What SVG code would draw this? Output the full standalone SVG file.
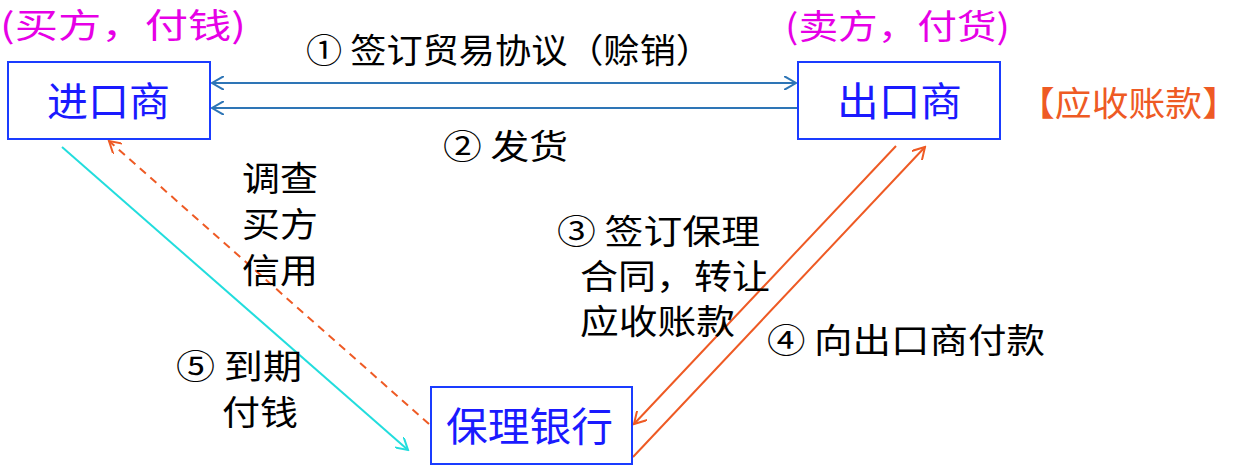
<svg xmlns="http://www.w3.org/2000/svg" width="1239" height="466" viewBox="0 0 1239 466">
<style>
text{font-family:"Noto Sans CJK SC","Liberation Sans",sans-serif;font-size:34px;fill:#000}
.box{fill:#fff;stroke:#1a3cff;stroke-width:2}
.nt{fill:#1a1aff;font-size:40px}
.mg{fill:#e600e6}
.bl{stroke:#2e75b6;stroke-width:2;fill:none}
.or{stroke:#ee5a24;stroke-width:2;fill:none}
</style>
<defs>
<marker id="ab" markerWidth="14" markerHeight="14" refX="12" refY="7" orient="auto-start-reverse" markerUnits="userSpaceOnUse"><path d="M0,0 L12,7 L0,14" fill="none" stroke="#2e75b6" stroke-width="2"/></marker>
<marker id="ao" markerWidth="14" markerHeight="14" refX="12" refY="7" orient="auto" markerUnits="userSpaceOnUse"><path d="M0,0 L12,7 L0,14" fill="none" stroke="#ee5a24" stroke-width="2"/></marker>
<marker id="ac" markerWidth="14" markerHeight="14" refX="12" refY="7" orient="auto" markerUnits="userSpaceOnUse"><path d="M0,0 L12,7 L0,14" fill="none" stroke="#22dddd" stroke-width="2"/></marker>
</defs>
<g id="connectors">
<line class="bl" x1="212" y1="83" x2="796" y2="83" marker-start="url(#ab)" marker-end="url(#ab)"/>
<line class="bl" x1="797" y1="108" x2="212" y2="108" marker-end="url(#ab)"/>
<line class="or" x1="896" y1="146" x2="634" y2="424" marker-end="url(#ao)"/>
<line class="or" x1="633" y1="457" x2="925" y2="147" marker-end="url(#ao)"/>
<line class="or" x1="429" y1="424" x2="109" y2="141" stroke-dasharray="8,6" marker-end="url(#ao)"/>
<line x1="62" y1="147" x2="408" y2="450" stroke="#22dddd" stroke-width="2" marker-end="url(#ac)"/>
</g>
<g id="importer"><rect class="box" x="8" y="62" width="202" height="77"/><text class="nt" x="47" y="116" textLength="123" lengthAdjust="spacingAndGlyphs">进口商</text></g>
<g id="exporter"><rect class="box" x="798" y="62" width="202" height="77"/><text class="nt" x="837" y="116" textLength="125" lengthAdjust="spacingAndGlyphs">出口商</text></g>
<g id="bank"><rect class="box" x="431" y="387" width="201" height="77"/><text class="nt" x="446" y="441" textLength="167" lengthAdjust="spacingAndGlyphs">保理银行</text></g>
<g id="labels">
<text class="mg" x="0" y="38" textLength="246" lengthAdjust="spacingAndGlyphs">(买方，付钱)</text>
<text class="mg" x="785" y="39" textLength="225" lengthAdjust="spacingAndGlyphs">(卖方，付货)</text>
<text x="1018" y="116" style="fill:#ee5a24" textLength="221" lengthAdjust="spacingAndGlyphs">【应收账款】</text>
<text x="306" y="63" textLength="406" lengthAdjust="spacingAndGlyphs">① 签订贸易协议（赊销）</text>
<text x="443" y="159" textLength="125" lengthAdjust="spacingAndGlyphs">② 发货</text>
<text x="242" y="191" textLength="76" lengthAdjust="spacingAndGlyphs">调查</text>
<text x="242" y="237" textLength="76" lengthAdjust="spacingAndGlyphs">买方</text>
<text x="242" y="283" textLength="76" lengthAdjust="spacingAndGlyphs">信用</text>
<text x="557" y="244" textLength="203" lengthAdjust="spacingAndGlyphs">③ 签订保理</text>
<text x="580" y="289" textLength="190" lengthAdjust="spacingAndGlyphs">合同，转让</text>
<text x="580" y="334" textLength="155" lengthAdjust="spacingAndGlyphs">应收账款</text>
<text x="767" y="353" textLength="278" lengthAdjust="spacingAndGlyphs">④ 向出口商付款</text>
<text x="176" y="379" textLength="126" lengthAdjust="spacingAndGlyphs">⑤ 到期</text>
<text x="222" y="425" textLength="76" lengthAdjust="spacingAndGlyphs">付钱</text>
</g>
</svg>
